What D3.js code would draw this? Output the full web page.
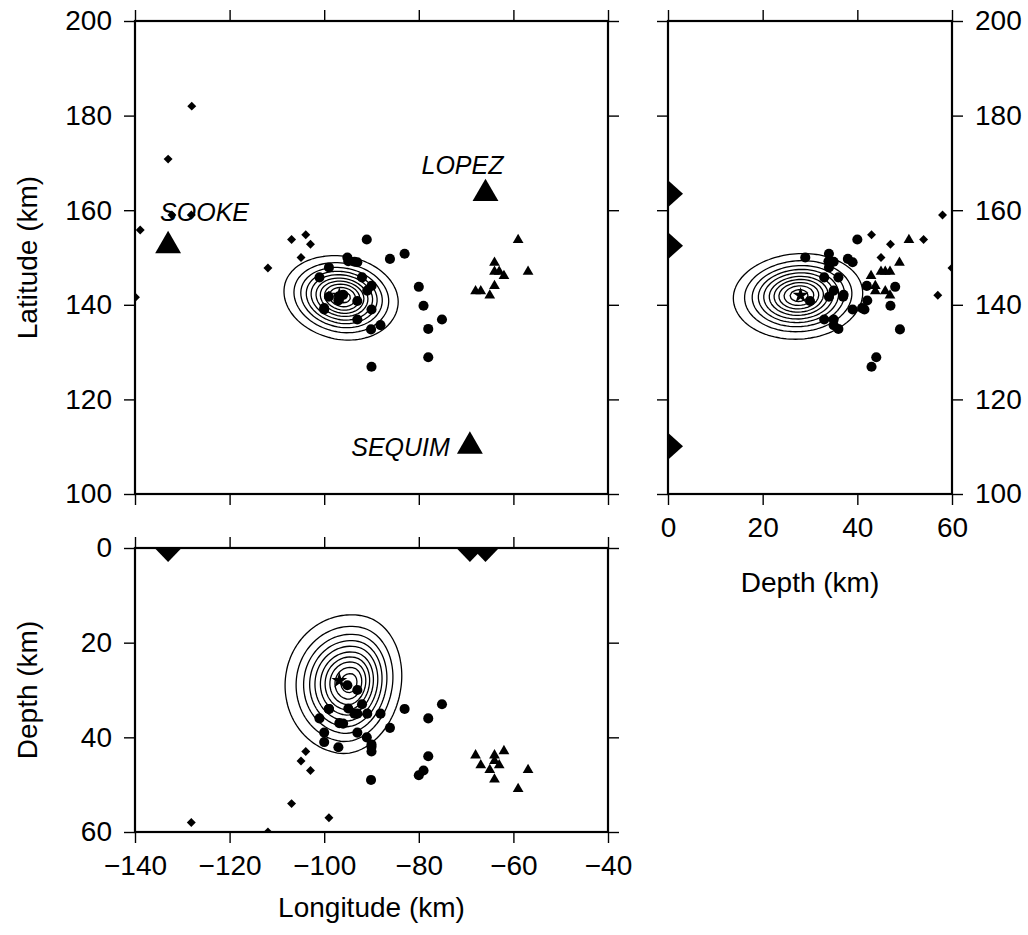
<!DOCTYPE html>
<html>
<head>
<meta charset="utf-8">
<script src="https://cdn.jsdelivr.net/npm/d3@7"></script>
<style>
  body { margin: 0; background: #fff; }
  svg text { font-family: "Liberation Sans", Arial, Helvetica, sans-serif; fill: #000; }
</style>
</head>
<body>
<svg id="chart" width="1028" height="935"></svg>
<script>
// ---- Stations (km grid) ----
const stationNames = ["SOOKE", "LOPEZ", "SEQUIM"];
const stationLon = [-133.0, -65.9, -69.2];
const stationLat = [152.5, 163.5, 110.1];

// ---- Located events: [longitude km, latitude km, depth km]; null depth = below the sections ----
const circleEvents = [
  [-91.0, 153.8, 40.0], [-86.1, 149.7, 38.0], [-83.0, 150.8, 34.0], [-95.1, 150.0, 29.0],
  [-94.9, 149.2, 33.9], [-93.6, 149.1, 35.0], [-93.0, 149.0, 39.0], [-99.0, 147.9, 34.0],
  [-101.0, 145.8, 36.0], [-92.0, 145.8, 33.0], [-90.0, 144.0, 42.0], [-90.9, 143.0, 35.0],
  [-99.0, 141.7, 34.0], [-96.8, 141.7, 37.0], [-96.0, 142.1, 37.1], [-97.0, 140.9, 42.1],
  [-93.0, 140.8, 30.0], [-90.0, 139.0, 41.5], [-100.0, 139.0, 39.0], [-100.0, 139.3, 41.0],
  [-93.0, 136.9, 35.0], [-90.1, 134.8, 49.0], [-88.1, 135.7, 35.0], [-80.0, 143.8, 48.0],
  [-79.0, 139.8, 47.0], [-75.1, 136.9, 33.0], [-78.0, 134.9, 36.0], [-78.0, 128.9, 44.0],
  [-90.0, 126.9, 43.0]
];
const diamondEvents = [
  [-128.0, 182.0, null], [-133.0, 170.8, null], [-138.9, 155.8, null], [-139.9, 141.6, null],
  [-132.2, 159.0, null], [-128.1, 159.0, 58.0], [-106.9, 153.8, 54.0], [-103.9, 154.8, 43.0],
  [-102.9, 152.8, 47.0], [-104.9, 150.0, 45.0], [-111.9, 147.8, 60.0], [-99.0, 142.0, 57.0]
];
const triangleEvents = [
  [-59.0, 153.7, 50.9], [-64.0, 148.9, 48.9], [-64.0, 147.0, 45.0], [-63.0, 147.0, 45.9],
  [-62.0, 146.1, 42.9], [-56.9, 147.0, 46.9], [-64.0, 144.0, 43.8], [-68.0, 142.9, 43.8],
  [-66.9, 142.9, 45.9], [-65.0, 142.0, 46.9]
];
const bestLocation = [-96.8, 142.0, 28.0];

// ---- Axis ticks ----
const lonTicks = [-140, -120, -100, -80, -60, -40];
const latTicks = [100, 120, 140, 160, 180, 200];
const depthTicks = [0, 20, 40, 60];

// ---- Location PDF contours (fraction of peak) ----
const contourLevels = [0.09, 0.18, 0.27, 0.36, 0.45, 0.55, 0.64, 0.73, 0.82, 0.91];
// peak, axis rotation (deg) and reach of the outermost contour along -u, +u, -v, +v (km)
const mapPdf = { peak: [-96.4, 142.0], rot: -11, reach: [12.5, 11.8, 9.0, 8.5] };
const lonDepthPdf = { peak: [-94.9, 28.2], rot: 10.9, reach: [13.6, 10.8, 14.4, 15.0] };
const depthLatPdf = { peak: [27.4, 142.3], rot: 4, reach: [13.9, 13.4, 9.2, 8.8] };

// ---- Layout ----
const svg = d3.select("#chart");
const mapX = d3.scaleLinear().domain([-140, -40]).range([135, 608]);
const mapY = d3.scaleLinear().domain([100, 200]).range([494, 21]);
const sideX = d3.scaleLinear().domain([0, 60]).range([668, 952]);
const lowY = d3.scaleLinear().domain([0, 60]).range([548, 832]);

const FONT = 28, tickLen = 11, tickPad = 12;

// radial profile of the PDF: value 1 at the peak, 1/11 on the outermost contour
function pdfValue(pdf, a, b) {
  const t = pdf.rot * Math.PI / 180;
  const da = a - pdf.peak[0], db = b - pdf.peak[1];
  const u = da * Math.cos(t) + db * Math.sin(t);
  const v = -da * Math.sin(t) + db * Math.cos(t);
  const ru = u / (u < 0 ? pdf.reach[0] : pdf.reach[1]);
  const rv = v / (v < 0 ? pdf.reach[2] : pdf.reach[3]);
  const rho = Math.hypot(ru, rv);
  return Math.exp(-(0.4 * rho + 2.0 * rho * rho));
}

function panel(id, xs, ys) {
  const [x0, x1] = xs.range();
  const yTop = Math.min(...ys.range()), yBot = Math.max(...ys.range());
  svg.append("clipPath").attr("id", id)
    .append("rect").attr("x", x0).attr("y", yTop).attr("width", x1 - x0).attr("height", yBot - yTop);
  const g = svg.append("g").attr("clip-path", `url(#${id})`);
  return { g, x0, x1, yTop, yBot };
}

function drawPdf(p, pdf, xs, ys) {
  const step = 3;
  const nx = Math.ceil((p.x1 - p.x0) / step) + 1;
  const ny = Math.ceil((p.yBot - p.yTop) / step) + 1;
  const values = new Float64Array(nx * ny);
  for (let j = 0; j < ny; j++) {
    for (let i = 0; i < nx; i++) {
      values[j * nx + i] = pdfValue(pdf, xs.invert(p.x0 + i * step), ys.invert(p.yTop + j * step));
    }
  }
  const contours = d3.contours().size([nx, ny]).thresholds(contourLevels)(values);
  const path = d3.geoPath(d3.geoIdentity().scale(step).translate([p.x0, p.yTop]));
  p.g.append("g").selectAll("path").data(contours).join("path")
    .attr("d", path).attr("fill", "none").attr("stroke", "#000").attr("stroke-width", 1.3);
}

const circleSym = d3.symbol().type(d3.symbolCircle).size(80)();
const diamondSym = d3.symbol().type(d3.symbolSquare).size(40)();
const triSym = d3.symbol().type(d3.symbolTriangle).size(50)();
const starSym = d3.symbol().type(d3.symbolStar).size(80)();
const stationSym = d3.symbol().type(d3.symbolTriangle).size(290)();

function drawEvents(p, fx, fy, useDepth) {
  const keep = d => !useDepth || d[2] !== null;
  p.g.append("g").selectAll("path").data(diamondEvents.filter(keep)).join("path")
    .attr("d", diamondSym).attr("transform", d => `translate(${fx(d)},${fy(d)}) rotate(45)`);
  p.g.append("g").selectAll("path").data(triangleEvents.filter(keep)).join("path")
    .attr("d", triSym).attr("transform", d => `translate(${fx(d)},${fy(d)})`);
  p.g.append("g").selectAll("path").data(circleEvents.filter(keep)).join("path")
    .attr("d", circleSym).attr("transform", d => `translate(${fx(d)},${fy(d)})`);
  p.g.append("path").datum(bestLocation)
    .attr("d", starSym).attr("transform", d => `translate(${fx(d)},${fy(d)})`);
}

function frame(p) {
  svg.append("rect").attr("x", p.x0).attr("y", p.yTop)
    .attr("width", p.x1 - p.x0).attr("height", p.yBot - p.yTop)
    .attr("fill", "none").attr("stroke", "#000").attr("stroke-width", 2.2);
}

function axis(gen, tx, ty, labels) {
  const g = svg.append("g").attr("transform", `translate(${tx},${ty})`)
    .call(gen.tickSizeOuter(0).tickSize(tickLen).tickPadding(tickPad).tickFormat(d3.format("d")));
  g.attr("font-size", null).attr("font-family", null);
  g.select(".domain").remove();
  g.selectAll(".tick line").attr("stroke", "#000").attr("stroke-width", 1.4);
  if (labels) g.selectAll(".tick text").attr("font-size", FONT).attr("fill", "#000");
  else g.selectAll(".tick text").remove();
}

// ---- Map view (longitude / latitude) ----
const pMap = panel("clip-map", mapX, mapY);
drawPdf(pMap, mapPdf, mapX, mapY);
drawEvents(pMap, d => mapX(d[0]), d => mapY(d[1]), false);
pMap.g.append("g").selectAll("path").data(stationNames).join("path")
  .attr("d", stationSym)
  .attr("transform", (d, i) => `translate(${mapX(stationLon[i])},${mapY(stationLat[i])})`);

// station name placement relative to the symbol (px)
const stationLabelPlace = [
  { dx: -8, dy: -25, anchor: "start" },
  { dx: 18, dy: -20, anchor: "end" },
  { dx: -20, dy: 10, anchor: "end" }
];
svg.append("g").selectAll("text").data(stationNames).join("text")
  .attr("x", (d, i) => mapX(stationLon[i]) + stationLabelPlace[i].dx)
  .attr("y", (d, i) => mapY(stationLat[i]) + stationLabelPlace[i].dy)
  .attr("text-anchor", (d, i) => stationLabelPlace[i].anchor)
  .attr("font-size", 25).attr("font-style", "italic")
  .text(d => d);

frame(pMap);
axis(d3.axisTop(mapX).tickValues(lonTicks), 0, 21, false);
axis(d3.axisBottom(mapX).tickValues(lonTicks), 0, 494, false);
axis(d3.axisLeft(mapY).tickValues(latTicks), 135, 0, true);
axis(d3.axisRight(mapY).tickValues(latTicks), 608, 0, false);

// ---- East section (depth / latitude) ----
const pSide = panel("clip-side", sideX, mapY);
drawPdf(pSide, depthLatPdf, sideX, mapY);
drawEvents(pSide, d => sideX(d[2]), d => mapY(d[1]), true);
pSide.g.append("g").selectAll("path").data(stationNames).join("path")
  .attr("d", (d, i) => {
    const x = sideX(0), y = mapY(stationLat[i]);
    return `M${x},${y - 13.5}L${x + 15},${y}L${x},${y + 13.5}Z`;
  });
frame(pSide);
axis(d3.axisTop(sideX).tickValues(depthTicks), 0, 21, false);
axis(d3.axisBottom(sideX).tickValues(depthTicks), 0, 494, true);
axis(d3.axisLeft(mapY).tickValues(latTicks), 668, 0, false);
axis(d3.axisRight(mapY).tickValues(latTicks), 952, 0, true);

// ---- South section (longitude / depth) ----
const pLow = panel("clip-low", mapX, lowY);
drawPdf(pLow, lonDepthPdf, mapX, lowY);
drawEvents(pLow, d => mapX(d[0]), d => lowY(d[2]), true);
pLow.g.append("g").selectAll("path").data(stationNames).join("path")
  .attr("d", (d, i) => {
    const x = mapX(stationLon[i]), y = lowY(0);
    return `M${x - 13.5},${y}L${x},${y + 14}L${x + 13.5},${y}Z`;
  });
frame(pLow);
axis(d3.axisTop(mapX).tickValues(lonTicks), 0, 548, false);
axis(d3.axisBottom(mapX).tickValues(lonTicks), 0, 832, true);
axis(d3.axisLeft(lowY).tickValues(depthTicks), 135, 0, true);
axis(d3.axisRight(lowY).tickValues(depthTicks), 608, 0, false);

// ---- Axis titles ----
svg.append("text").attr("x", 371.5).attr("y", 917).attr("text-anchor", "middle")
  .attr("font-size", FONT).text("Longitude (km)");
svg.append("text").attr("x", 810).attr("y", 592).attr("text-anchor", "middle")
  .attr("font-size", FONT).text("Depth (km)");
svg.append("text").attr("transform", "translate(37,257.5) rotate(-90)").attr("text-anchor", "middle")
  .attr("font-size", FONT).text("Latitude (km)");
svg.append("text").attr("transform", "translate(37,690) rotate(-90)").attr("text-anchor", "middle")
  .attr("font-size", FONT).text("Depth (km)");
</script>
</body>
</html>
